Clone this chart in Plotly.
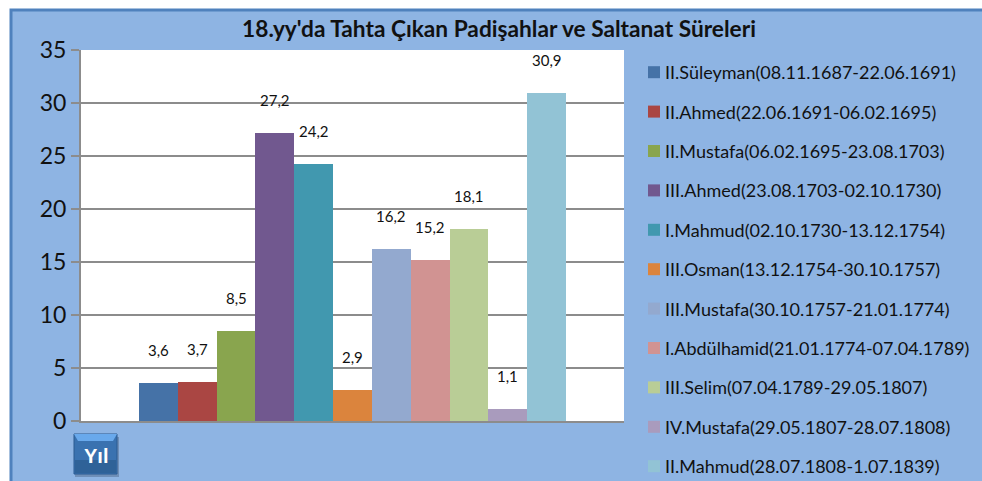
import plotly.graph_objects as go

names = ["II.Süleyman(08.11.1687-22.06.1691)", "II.Ahmed(22.06.1691-06.02.1695)",
         "II.Mustafa(06.02.1695-23.08.1703)", "III.Ahmed(23.08.1703-02.10.1730)",
         "I.Mahmud(02.10.1730-13.12.1754)", "III.Osman(13.12.1754-30.10.1757)",
         "III.Mustafa(30.10.1757-21.01.1774)", "I.Abdülhamid(21.01.1774-07.04.1789)",
         "III.Selim(07.04.1789-29.05.1807)", "IV.Mustafa(29.05.1807-28.07.1808)",
         "II.Mahmud(28.07.1808-1.07.1839)"]
values = [3.6, 3.7, 8.5, 27.2, 24.2, 2.9, 16.2, 15.2, 18.1, 1.1, 30.9]
colors = ["#4572A7", "#AA4643", "#89A54E", "#71588F", "#4198AF", "#DB843D",
          "#93A9CF", "#D19392", "#B9CD96", "#A99BBD", "#92C3D5"]
title = "18.yy'da Tahta Çıkan Padişahlar ve Saltanat Süreleri"

W, H = 982, 481
L, R, T, B = 81, 624, 50, 421      # plot rectangle in pixels
GT, GB = 8, 478                    # tall grid box so the legend has room
FONT = "Lato, Carlito, Calibri, sans-serif"

def px(x):
    return (x - L) / (R - L)

def py(y):
    return (GB - y) / (GB - GT)

def rect(x0, y0, x1, y1, fill, line=None, lw=0):
    return dict(type="rect", xref="paper", yref="paper", layer="below",
                x0=px(x0), x1=px(x1), y0=py(y1), y1=py(y0), fillcolor=fill,
                line=dict(color=line or fill, width=lw))

fig = go.Figure()
for i, (n, v, c) in enumerate(zip(names, values, colors)):
    fig.add_bar(x=[i], y=[v], width=1, marker=dict(color=c, line_width=0),
                name=n, showlegend=False, hoverinfo="name+y")
    fig.add_scatter(x=[None], y=[None], mode="markers", name=n, legendgroup=n,
                    marker=dict(symbol="square", size=12, color=c))
    fig.add_annotation(x=i, y=v, text=str(v).replace(".", ","), showarrow=False,
                       yanchor="bottom", yshift=22,
                       font=dict(family=FONT, size=15, color="#111"))

fig.add_annotation(xref="paper", yref="paper", x=px(95.5), y=py(456), text="<b>Yıl</b>",
                   xanchor="center", yanchor="middle", showarrow=False,
                   font=dict(family="Liberation Sans, sans-serif", size=20, color="#fff"))

shapes = [
    rect(11, 10, 990, 490, "#8EB4E3", "#4F81BD", 3),
    rect(L, T, R, B, "#FFFFFF"),
    rect(75, 437, 119, 477, "#6F8FB8"),
    rect(74, 434, 117, 474, "#3A72B0", "#2A5A90", 1),
    rect(75, 460, 116, 473, "#2F6298"),
    dict(type="path", xref="paper", yref="paper", layer="below",
         path=f"M {px(74)} {py(434)} L {px(117)} {py(434)} L {px(113)} {py(441)} L {px(78)} {py(441)} Z",
         fillcolor="#69A9EC", line=dict(width=0)),
]

fig.update_layout(
    width=W, height=H, autosize=False,
    margin=dict(l=L, r=W - R, t=GT, b=H - GB, pad=0, autoexpand=False),
    paper_bgcolor="#FFFFFF", plot_bgcolor="rgba(0,0,0,0)",
    barmode="overlay", bargap=0, shapes=shapes,
    title=dict(text=f"<b>{title}</b>", x=499 / W, xanchor="center", y=1 - 29 / H, yanchor="middle",
               font=dict(family=FONT, size=22.7, color="#111")),
    legend=dict(x=px(625), y=py(54), xanchor="left", yanchor="top", bgcolor="rgba(0,0,0,0)",
                tracegroupgap=13, font=dict(family=FONT, size=18, color="#111"),
                itemclick=False, itemdoubleclick=False),
    xaxis=dict(range=[-1.994, 11.994], showticklabels=False, ticks="", showgrid=False, zeroline=False,
               showline=True, linecolor="#8C8C8C", linewidth=2),
    yaxis=dict(range=[0, 35], dtick=5, domain=[py(B), py(T)], ticks="outside", ticklen=8, tickwidth=2,
               tickcolor="#8C8C8C", showgrid=True, gridcolor="#8C8C8C", gridwidth=2, zeroline=False,
               showline=True, linecolor="#8C8C8C", linewidth=2,
               tickfont=dict(family=FONT, size=23, color="#111")),
)
post = """
document.body.style.margin = '0';
var gd = document.getElementById('{plot_id}');
function nudge() {
  gd.querySelectorAll('.legendsymbols').forEach(function (s) {
    s.setAttribute('transform', 'translate(9,0)');
  });
}
nudge();
gd.on('plotly_afterplot', nudge);
"""
fig.write_html("out.html", post_script=post, config={"displayModeBar": False})
